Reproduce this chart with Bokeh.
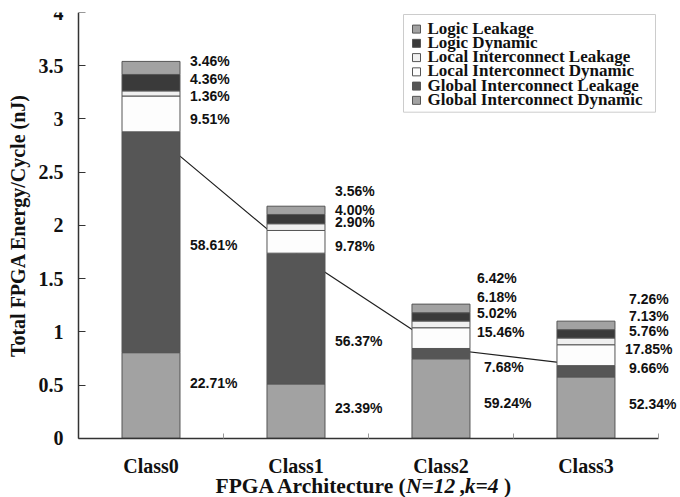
import math
from bokeh.plotting import figure
from bokeh.models import (Range1d, FixedTicker, Label, LabelSet,
                          ColumnDataSource)
from bokeh.core.properties import value
from bokeh.embed import file_html
from bokeh.resources import INLINE

# ---- data -----------------------------------------------------------------
categories = ["Class0", "Class1", "Class2", "Class3"]
total_energy = [3.54, 2.18, 1.26, 1.10]          # nJ per cycle

components = ["Global Interconnect Dynamic", "Global Interconnect Leakage",
              "Local Interconnect Dynamic", "Local Interconnect Leakage",
              "Logic Dynamic", "Logic Leakage"]

pct_global_dyn = [22.71, 23.39, 59.24, 52.34]
pct_global_leak = [58.61, 56.37, 7.68, 9.66]
pct_local_dyn = [9.51, 9.78, 15.46, 17.85]
pct_local_leak = [1.36, 2.90, 5.02, 5.76]
pct_logic_dyn = [4.36, 4.00, 6.18, 7.13]
pct_logic_leak = [3.46, 3.56, 6.42, 7.26]

y_ticks = [0, 0.5, 1, 1.5, 2, 2.5, 3, 3.5, 4]
y_tick_labels = ["0", "0.5", "1", "1.5", "2", "2.5", "3", "3.5", "4"]

# ---- styling ----------------------------------------------------------------
colors = ["#a2a2a2", "#565656", "#fdfdfd", "#f0f0f0", "#3a3a3a", "#a2a2a2"]
SERIF = "Liberation Serif"
SANS = "Liberation Sans"
INK = "#111111"

W, H = 680, 497
TOP = 12
X_LO, X_HI = -0.538, 4.152
Y_LO, Y_HI = -0.557, 4.0


def px_x(px):
    """canvas pixel column -> x data value"""
    return X_LO + px / W * (X_HI - X_LO)


def px_y(py):
    """canvas pixel row -> y data value"""
    return Y_HI - (py - TOP) / (H - TOP) * (Y_HI - Y_LO)


# label nudges in pixels (up, right), bottom segment first, per class
label_dy = [[12, -3, -5, -3, 4, 7],
            [3, -22, -4, 5, 9, 19],
            [-5, -13, 6, 11, 20, 30],
            [4, 3, 6, 10, 18, 26]]
label_dx = [[10, 10, 10, 10, 10, 10],
            [10, 10, 10, 10, 10, 10],
            [14, 14, 7, 7, 7, 7],
            [14, 14, 10, 14, 14, 14]]

pcts = [pct_global_dyn, pct_global_leak, pct_local_dyn,
        pct_local_leak, pct_logic_dyn, pct_logic_leak]

xs = [i + 0.5 for i in range(len(categories))]
bar_w = 0.4

data = {"x": xs}
for name, pc in zip(components, pcts):
    data[name] = [t * p / 100.0 for t, p in zip(total_energy, pc)]
source = ColumnDataSource(data)

# the frame fills the canvas; axes are pinned at x=0 / y=0 inside it
p = figure(width=W, height=H, output_backend="svg", toolbar_location=None,
           x_range=Range1d(X_LO, X_HI), y_range=Range1d(Y_LO, Y_HI),
           min_border_left=0, min_border_right=0, min_border_top=TOP,
           min_border_bottom=0)
p.outline_line_color = None
p.xgrid.visible = False
p.ygrid.visible = False
p.background_fill_color = "white"
p.border_fill_color = "white"

# trend line through the top of the global-interconnect-leakage segment
gl_top = [a + b for a, b in zip(data[components[0]], data[components[1]])]
p.line(xs, gl_top, line_color="#202020", line_width=1.2)

renderers = p.vbar_stack(components, x="x", width=bar_w, source=source,
                         fill_color=colors, line_color="#555555",
                         line_width=1)

# percentage labels beside each segment
lx, ly, lt, ldx, ldy = [], [], [], [], []
for i in range(len(categories)):
    base = 0.0
    for j, name in enumerate(components):
        h = data[name][i]
        lx.append(xs[i] + bar_w / 2)
        ly.append(base + h / 2)
        lt.append(f"{pcts[j][i]:.2f}%")
        ldx.append(label_dx[i][j])
        ldy.append(label_dy[i][j])
        base += h
lab_src = ColumnDataSource(dict(x=lx, y=ly, text=lt, dx=ldx, dy=ldy))
p.add_layout(LabelSet(x="x", y="y", text="text", x_offset="dx", y_offset="dy",
                      source=lab_src, text_font=value(SANS),
                      text_font_style="bold", text_font_size="14px",
                      text_color=INK, text_align="left",
                      text_baseline="middle"))

# axes
xa = p.xaxis[0]
xa.fixed_location = 0
xa.ticker = FixedTicker(ticks=xs, minor_ticks=[1, 2, 3, 4])
xa.major_label_overrides = {x: c for x, c in zip(xs, categories)}
xa.bounds = (0, 4)
xa.major_tick_in = 0
xa.major_tick_out = 0
xa.minor_tick_in = 5
xa.minor_tick_out = 0
xa.minor_tick_line_color = "#999999"
xa.axis_line_color = "#333333"
xa.axis_line_width = 1.5
xa.major_label_text_font = SERIF
xa.major_label_text_font_style = "bold"
xa.major_label_text_font_size = "20px"
xa.major_label_text_color = INK
xa.major_label_standoff = 17

ya = p.yaxis[0]
ya.fixed_location = 0
ya.ticker = FixedTicker(ticks=y_ticks, minor_ticks=[])
ya.major_label_overrides = {v: s for v, s in zip(y_ticks, y_tick_labels)}
ya.bounds = (0, 4)
ya.major_tick_in = 7
ya.major_tick_out = 0
ya.major_tick_line_color = "#333333"
ya.axis_line_color = "#333333"
ya.axis_line_width = 1.5
ya.major_label_text_font = SERIF
ya.major_label_text_font_style = "bold"
ya.major_label_text_font_size = "20px"
ya.major_label_text_color = INK
ya.major_label_standoff = 15

# y-axis title
p.add_layout(Label(x=px_x(17.5), y=px_y(225), text="Total FPGA Energy/Cycle (nJ)",
                   angle=math.pi / 2, text_font=SERIF, text_font_style="bold",
                   text_font_size="20px", text_color=INK,
                   text_align="center", text_baseline="middle"))

# x-axis title with italic parameters, laid out piece by piece
# (text, style, advance in em including any trailing space)
title_size = 21.5
pieces = [("FPGA Architecture (", "bold", 8.86),
          ("N=12", "bold italic", 2.237 + 0.25),
          (",", "bold", 0.25),
          ("k=4", "bold italic", 1.57 + 0.25),
          (")", "bold", 0.333)]
offset = 0.0
for txt, style, em in pieces:
    p.add_layout(Label(x=px_x(215), y=px_y(485), x_offset=offset, text=txt,
                       text_font=SERIF, text_font_style=style,
                       text_font_size=f"{title_size}px", text_color=INK,
                       text_align="left", text_baseline="middle"))
    offset += em * title_size

# legend box, top of stack listed first
leg_left, leg_top, leg_right, leg_bottom = 403, 14, 655, 111.7
p.quad(left=px_x(leg_left), right=px_x(leg_right), top=px_y(leg_top),
       bottom=px_y(leg_bottom), fill_color="white", line_color="#cccccc",
       line_width=1)
leg_names = components[::-1]
leg_colors = colors[::-1]
first_row, pitch = 28.6, 14.25
rows = [first_row + k * pitch for k in range(len(leg_names))]
p.scatter(x=[px_x(416)] * len(rows), y=[px_y(r) for r in rows],
          marker="square", size=8, fill_color=leg_colors,
          line_color="#555555", line_width=1)
p.text(x=[px_x(427)] * len(rows), y=[px_y(r - 1) for r in rows],
       text=leg_names, text_font=value(SERIF), text_font_style="bold",
       text_font_size="17px", text_color=INK, text_align="left",
       text_baseline="middle")

open("out.html", "w").write(file_html(p, INLINE))
